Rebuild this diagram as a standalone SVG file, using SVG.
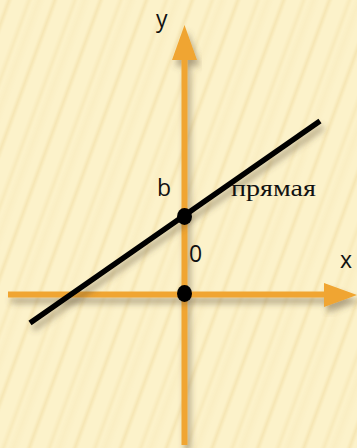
<svg xmlns="http://www.w3.org/2000/svg" width="357" height="448" viewBox="0 0 357 448">
<defs>
<linearGradient id="sg" x1="0" y1="0" x2="1" y2="0">
<stop offset="0" stop-color="#FCF2CA"/>
<stop offset="0.12" stop-color="#FCF2CA"/>
<stop offset="0.2" stop-color="#F6E6B4"/>
<stop offset="0.28" stop-color="#FCF2CA"/>
<stop offset="0.55" stop-color="#FCF2CA"/>
<stop offset="0.64" stop-color="#F8EABB"/>
<stop offset="0.72" stop-color="#FCF2CA"/>
<stop offset="0.85" stop-color="#FAEEC3"/>
<stop offset="1" stop-color="#FCF2CA"/>
</linearGradient>
<pattern id="stripes" width="43" height="60" patternUnits="userSpaceOnUse" patternTransform="rotate(20)">
<rect width="43" height="60" fill="url(#sg)"/>
</pattern>
<filter id="sh" x="-20%" y="-20%" width="140%" height="160%">
<feDropShadow dx="3" dy="6" stdDeviation="3" flood-color="#5a4a30" flood-opacity="0.45"/>
</filter>
<style>
.axis{stroke:#F0A530;stroke-width:6;fill:none}
.head{fill:#F0A530}
.lbl{font-family:"Open Sans","Liberation Sans",sans-serif;font-size:23px;fill:#111}
.ser{font-family:"Liberation Serif","DejaVu Serif",serif;font-size:23px;fill:#111}
.dot{fill:#000}
</style>
</defs>
<rect width="357" height="448" fill="#FCF2CA"/>
<rect width="357" height="448" fill="url(#stripes)"/>
<g id="connectors">
<g id="y-axis" filter="url(#sh)">
<line class="axis" x1="184.5" y1="445" x2="184.5" y2="58"/>
<polygon class="head" points="184.5,25 197,60 172,60"/>
</g>
<g id="x-axis" filter="url(#sh)">
<line class="axis" x1="8" y1="294.5" x2="327" y2="294.5"/>
<polygon class="head" points="357,295 324,283 324,307"/>
</g>
<g id="line" filter="url(#sh)">
<line x1="30" y1="323" x2="320" y2="121" stroke="#000" stroke-width="5.5"/>
</g>
</g>
<g id="point-b"><ellipse class="dot" cx="184.5" cy="216.5" rx="7.5" ry="8.5"/></g>
<g id="point-0"><ellipse class="dot" cx="184.5" cy="293.5" rx="7.5" ry="8.5"/></g>
<g id="labels">
<text class="lbl" x="156" y="27">y</text>
<text class="lbl" x="157" y="196">b</text>
<text class="lbl" x="189" y="262">0</text>
<text class="lbl" x="340" y="268">x</text>
<text class="ser" x="231" y="196" textLength="85" lengthAdjust="spacingAndGlyphs">прямая</text>
</g>
</svg>
